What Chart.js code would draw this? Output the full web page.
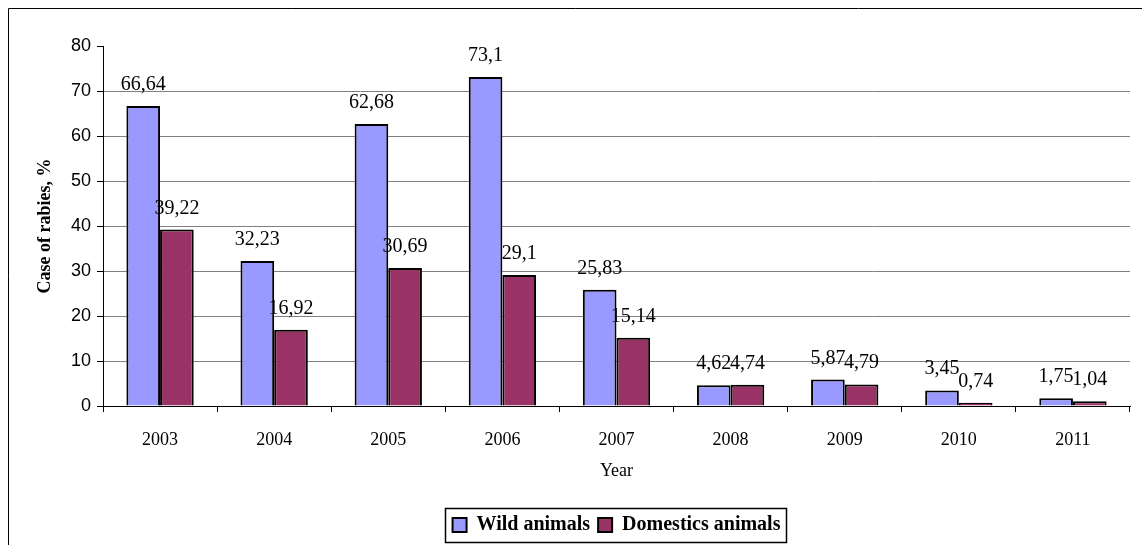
<!DOCTYPE html>
<html>
<head>
<meta charset="utf-8">
<script src="https://cdn.jsdelivr.net/npm/chart.js@4"></script>
<style>
  html, body { margin: 0; padding: 0; background: #fff; }
  #wrap { position: relative; width: 1142px; height: 545px; }
  canvas { display: block; }
</style>
</head>
<body>
<div id="wrap"><canvas id="c" width="1142" height="545"></canvas></div>
<script>
const years = ['2003', '2004', '2005', '2006', '2007', '2008', '2009', '2010', '2011'];
const wildAnimals = [66.64, 32.23, 62.68, 73.1, 25.83, 4.62, 5.87, 3.45, 1.75];
const domesticAnimals = [39.22, 16.92, 30.69, 29.1, 15.14, 4.74, 4.79, 0.74, 1.04];
const yTicks = [0, 10, 20, 30, 40, 50, 60, 70, 80];

const serif = '"Liberation Serif", "Times New Roman", serif';
const sans = '"Liberation Sans", Arial, sans-serif';

// Value written above each bar with a decimal comma
const valueLabels = {
  id: 'valueLabels',
  afterDatasetsDraw(chart) {
    const ctx = chart.ctx;
    ctx.save();
    ctx.font = '20px ' + serif;
    ctx.fillStyle = '#000';
    ctx.textAlign = 'center';
    ctx.textBaseline = 'alphabetic';
    chart.data.datasets.forEach((ds, di) => {
      chart.getDatasetMeta(di).data.forEach((bar, i) => {
        const txt = String(ds.data[i]).replace('.', ',');
        ctx.fillText(txt, bar.x, bar.y - 16);
      });
    });
    ctx.restore();
  }
};

// Outer frame of the figure and box round the legend
const frame = {
  id: 'frame',
  afterDraw(chart) {
    const ctx = chart.ctx;
    ctx.save();
    ctx.strokeStyle = '#000';
    ctx.lineWidth = 1;
    ctx.beginPath();
    ctx.moveTo(8.5, chart.height);
    ctx.lineTo(8.5, 8.5);
    ctx.lineTo(chart.width, 8.5);
    ctx.stroke();
    const lg = chart.legend;
    if (lg && lg.legendHitBoxes && lg.legendHitBoxes.length) {
      const hb = lg.legendHitBoxes;
      const first = hb[0], last = hb[hb.length - 1];
      const cy = first.top + first.height / 2;
      const x0 = Math.round(first.left - 8) + 0.5;
      const x1 = Math.round(last.left + last.width + 6) + 0.5;
      ctx.lineWidth = 1.5;
      ctx.strokeRect(x0, Math.round(cy - 17) + 0.5, x1 - x0, 34);
    }
    ctx.restore();
  }
};

new Chart(document.getElementById('c'), {
  type: 'bar',
  data: {
    labels: years,
    datasets: [
      {
        label: 'Wild animals',
        data: wildAnimals,
        backgroundColor: '#9999FF',
        borderColor: '#000',
        borderWidth: 2
      },
      {
        label: 'Domestics animals',
        data: domesticAnimals,
        backgroundColor: '#993366',
        borderColor: '#000',
        borderWidth: 2
      }
    ]
  },
  options: {
    responsive: false,
    animation: false,
    layout: { padding: { left: 0, right: 12, top: 46, bottom: 0 } },
    datasets: { bar: { barPercentage: 1.0, categoryPercentage: 0.59 } },
    plugins: {
      legend: {
        position: 'bottom',
        fullSize: false,
        labels: {
          font: { family: serif, size: 20, weight: 'bold' },
          color: '#000',
          boxWidth: 14,
          boxHeight: 14,
          padding: 8,
          generateLabels(chart) {
            return chart.data.datasets.map((ds, i) => ({
              text: ds.label,
              fillStyle: ds.backgroundColor,
              strokeStyle: '#000',
              lineWidth: 2,
              datasetIndex: i,
              fontColor: '#000'
            }));
          }
        }
      },
      tooltip: { enabled: false }
    },
    scales: {
      x: {
        grid: { display: true, drawOnChartArea: false, drawTicks: true, tickLength: 6, tickColor: '#000', offset: true },
        border: { color: '#000', width: 1 },
        ticks: { color: '#000', font: { family: serif, size: 18 }, padding: 17, maxRotation: 0 },
        title: { display: true, text: 'Year', color: '#000', font: { family: serif, size: 18 }, padding: { top: 0, bottom: 25 } },
        afterFit(scale) { scale.height = 101; }
      },
      y: {
        min: 0,
        max: 80,
        afterBuildTicks(scale) { scale.ticks = yTicks.map(v => ({ value: v })); },
        grid: {
          color: (c) => (c.tick && c.tick.value === 80 ? 'rgba(0,0,0,0)' : '#808080'),
          lineWidth: 1,
          tickLength: 6,
          tickColor: '#000',
          drawTicks: true
        },
        border: { color: '#000', width: 1 },
        ticks: { color: '#000', font: { family: sans, size: 18 }, padding: 6 },
        title: { display: true, text: 'Case of rabies, %', color: '#000', font: { family: serif, size: 18, weight: 'bold' }, padding: { top: 35, bottom: 0 } },
        afterFit(scale) { scale.width = 103; }
      }
    }
  },
  plugins: [valueLabels, frame]
});
</script>
</body>
</html>
